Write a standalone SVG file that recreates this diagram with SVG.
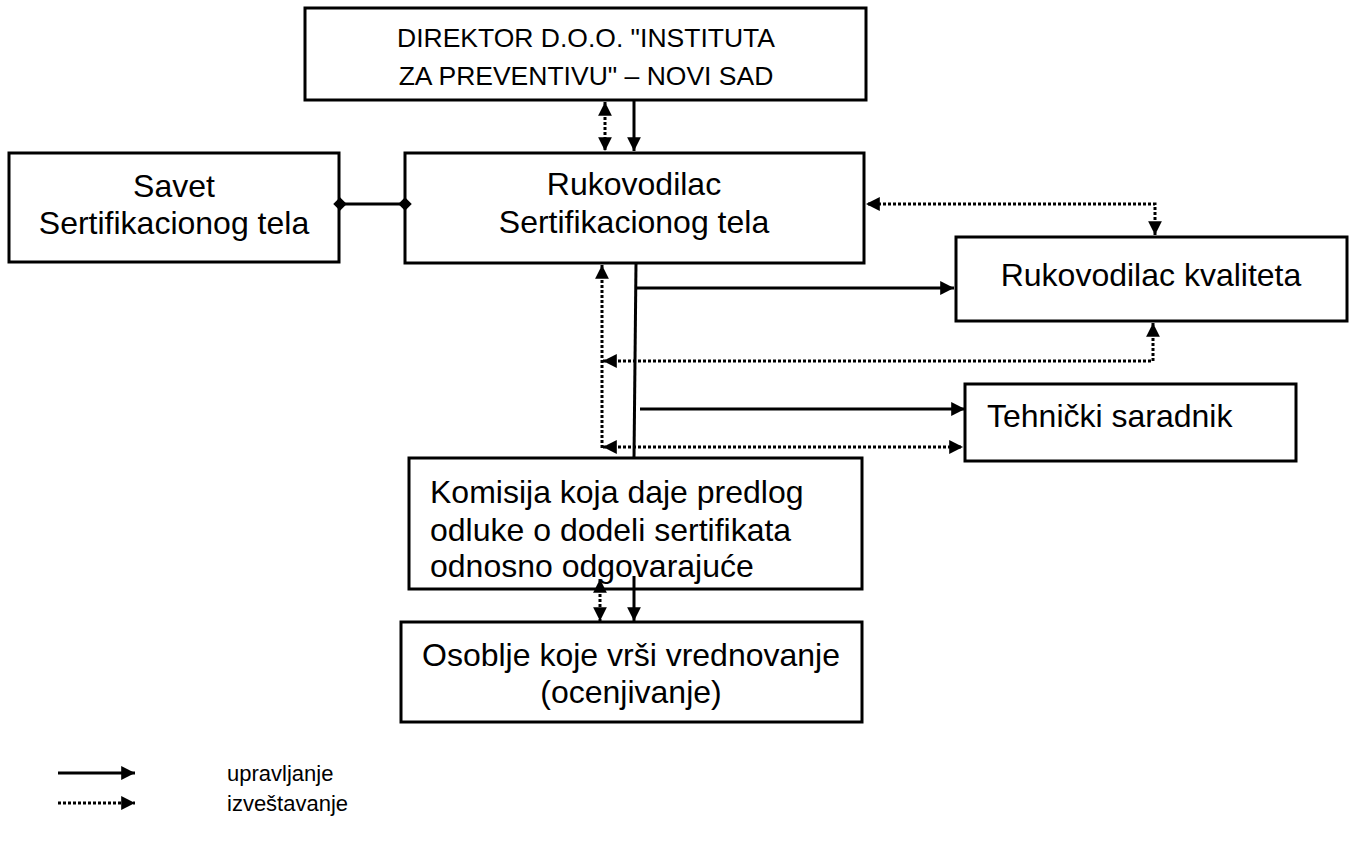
<svg xmlns="http://www.w3.org/2000/svg" width="1352" height="842" viewBox="0 0 1352 842">
<style>
.box{fill:#fff;stroke:#000;stroke-width:3}
.t{font-family:"Liberation Sans",Arial,sans-serif;font-size:32px;fill:#000}
.h{font-size:26.5px}
.c{text-anchor:middle}
.l{font-family:"Liberation Sans",Arial,sans-serif;font-size:22px;fill:#000}
.s{stroke:#000;stroke-width:3;fill:none}
.d{stroke:#000;stroke-width:3;fill:none;stroke-dasharray:3 2}
</style>
<defs>
<marker id="a" viewBox="0 0 10 10" refX="10" refY="5" markerWidth="5.3" markerHeight="4.6" markerUnits="strokeWidth" orient="auto-start-reverse"><path d="M0,0L10,5L0,10z" fill="#000"/></marker>
<marker id="dm" viewBox="0 0 10 10" refX="5" refY="5" markerWidth="4.5" markerHeight="4.5" markerUnits="strokeWidth" orient="auto"><path d="M5,0L10,5L5,10L0,5z" fill="#000"/></marker>
</defs>
<g id="director"><rect class="box" x="305" y="8" width="561" height="92"/><text class="t h c" x="586" y="47">DIREKTOR D.O.O. "INSTITUTA</text><text class="t h c" x="586" y="85">ZA PREVENTIVU" – NOVI SAD</text></g>
<g id="savet"><rect class="box" x="9" y="153" width="330" height="109"/><text class="t c" x="174" y="197">Savet</text><text class="t c" x="174" y="234">Sertifikacionog tela</text></g>
<g id="rukovodilac"><rect class="box" x="405" y="153" width="459" height="110"/><text class="t c" x="634" y="195">Rukovodilac</text><text class="t c" x="634" y="233">Sertifikacionog tela</text></g>
<g id="kvalitet"><rect class="box" x="956" y="237" width="391" height="84"/><text class="t c" x="1151" y="286">Rukovodilac kvaliteta</text></g>
<g id="tehnicki"><rect class="box" x="965" y="384" width="331" height="77"/><text class="t" x="987" y="427">Tehnički saradnik</text></g>
<g id="komisija"><rect class="box" x="409" y="458" width="453" height="131"/><text class="t" x="430" y="503">Komisija koja daje predlog</text><text class="t" x="430" y="541">odluke o dodeli sertifikata</text><text class="t" x="430" y="577">odnosno odgovarajuće</text></g>
<g id="osoblje"><rect class="box" x="401" y="622" width="461" height="100"/><text class="t c" x="631" y="666">Osoblje koje vrši vrednovanje</text><text class="t c" x="631" y="703">(ocenjivanje)</text></g>
<g id="connectors">
<line class="d" x1="605" y1="102" x2="605" y2="151" marker-start="url(#a)" marker-end="url(#a)"/>
<line class="s" x1="634" y1="100" x2="634" y2="151" marker-end="url(#a)"/>
<line class="s" x1="340" y1="204" x2="405" y2="204" marker-start="url(#dm)" marker-end="url(#dm)"/>
<polyline class="d" points="1155,235 1155,204 866,204" marker-start="url(#a)" marker-end="url(#a)"/>
<line class="s" x1="636" y1="263" x2="634" y2="458"/>
<line class="s" x1="636" y1="288" x2="954" y2="288" marker-end="url(#a)"/>
<polyline class="d" points="1153,323 1153,361 603,361" marker-start="url(#a)" marker-end="url(#a)"/>
<line class="d" x1="602" y1="448" x2="602" y2="265" marker-end="url(#a)"/>
<line class="s" x1="640" y1="409" x2="965" y2="409" marker-end="url(#a)"/>
<line class="d" x1="603" y1="447" x2="963" y2="447" marker-start="url(#a)" marker-end="url(#a)"/>
<line class="d" x1="600" y1="579" x2="600" y2="621" marker-start="url(#a)" marker-end="url(#a)"/>
<line class="s" x1="634" y1="576" x2="634" y2="621" marker-end="url(#a)"/>
</g>
<g id="legend">
<line class="s" x1="58" y1="773" x2="135" y2="773" marker-end="url(#a)"/>
<line class="d" x1="58" y1="803" x2="135" y2="803" stroke-width="2.5" marker-end="url(#a)"/>
<text class="l" x="227" y="781">upravljanje</text>
<text class="l" x="227" y="811">izveštavanje</text>
</g>
</svg>
